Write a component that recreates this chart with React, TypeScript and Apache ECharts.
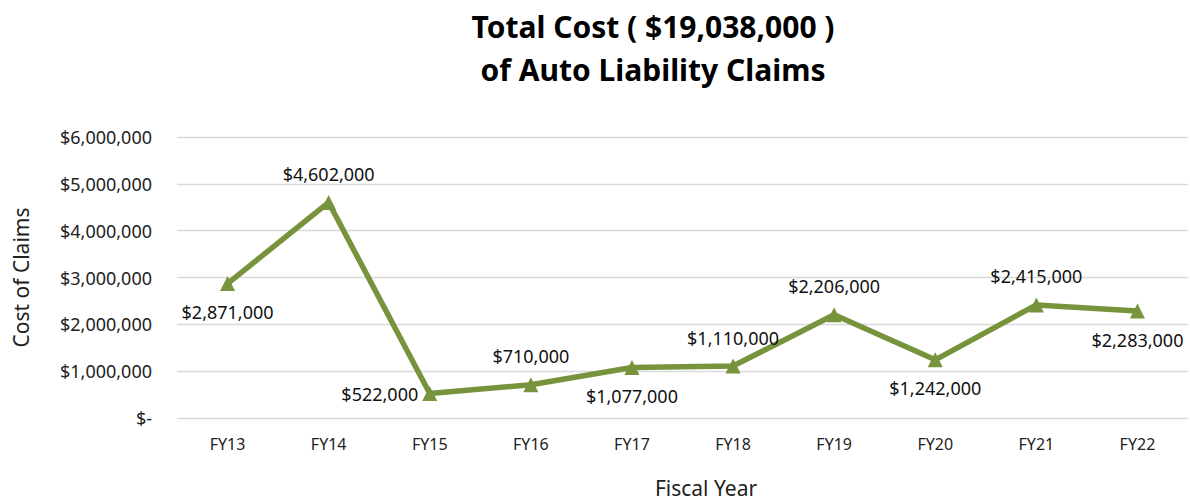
import React, { useEffect, useRef } from "react";
import * as echarts from "echarts";

const categories = ["FY13", "FY14", "FY15", "FY16", "FY17", "FY18", "FY19", "FY20", "FY21", "FY22"];
const costValues = [2871000, 4602000, 522000, 710000, 1077000, 1110000, 2206000, 1242000, 2415000, 2283000];
const labelPositions = ["bottom", "top", "left", "top", "bottom", "top", "top", "bottom", "top", "bottom"];
const titleLines = ["Total Cost ( $19,038,000 )", "of Auto Liability Claims"];

const FONT = "'Noto Sans', 'Open Sans', sans-serif";

function money(v: number): string {
  if (v === 0) return "$-";
  return "$" + v.toLocaleString("en-US");
}

export default function App() {
  const ref = useRef<HTMLDivElement>(null);
  useEffect(() => {
    document.body.style.margin = "0";
    const chart = echarts.init(ref.current!, null, { renderer: "svg" });
    chart.setOption({
      animation: false,
      backgroundColor: "#ffffff",
      title: {
        text: titleLines.join("\n"),
        left: 653,
        textAlign: "center",
        top: 5,
        padding: 0,
        textStyle: { fontFamily: FONT, fontSize: 30, fontWeight: "bold", color: "#000", lineHeight: 43 },
      },
      grid: { left: 177, right: 2, top: 137, bottom: 85, outerBoundsMode: "none", containLabel: false },
      xAxis: {
        type: "category",
        data: categories,
        boundaryGap: true,
        axisLine: { show: false },
        axisTick: { show: false },
        axisLabel: { fontFamily: FONT, fontSize: 16, color: "#222", margin: 18 },
        name: "Fiscal Year",
        nameLocation: "middle",
        nameGap: 59,
        nameTextStyle: { fontFamily: FONT, fontSize: 21, color: "#222", padding: [0, 0, 0, 47] },
      },
      yAxis: {
        type: "value",
        min: 0,
        max: 6000000,
        interval: 1000000,
        axisLine: { show: false },
        axisTick: { show: false },
        splitLine: { lineStyle: { color: "#d9d9d9", width: 1.3 } },
        axisLabel: { fontFamily: FONT, fontSize: 18, color: "#222", margin: 25, formatter: (v: number) => money(v) },
        name: "Cost of Claims",
        nameLocation: "middle",
        nameGap: 146,
        nameTextStyle: { fontFamily: FONT, fontSize: 21, color: "#222" },
      },
      series: [
        {
          type: "line",
          data: costValues.map((v, i) => ({
            value: v,
            label: { position: labelPositions[i], distance: labelPositions[i] === "left" ? 4 : 12 },
          })),
          symbol: "triangle",
          symbolSize: 15,
          lineStyle: { color: "#77933C", width: 5.5 },
          itemStyle: { color: "#77933C" },
          label: {
            show: true,
            fontFamily: FONT,
            fontSize: 18,
            color: "#111",
            formatter: (p: any) => money(p.value),
          },
        },
      ],
    });
    return () => chart.dispose();
  }, []);
  return <div ref={ref} style={{ width: 1190, height: 503 }} />;
}
